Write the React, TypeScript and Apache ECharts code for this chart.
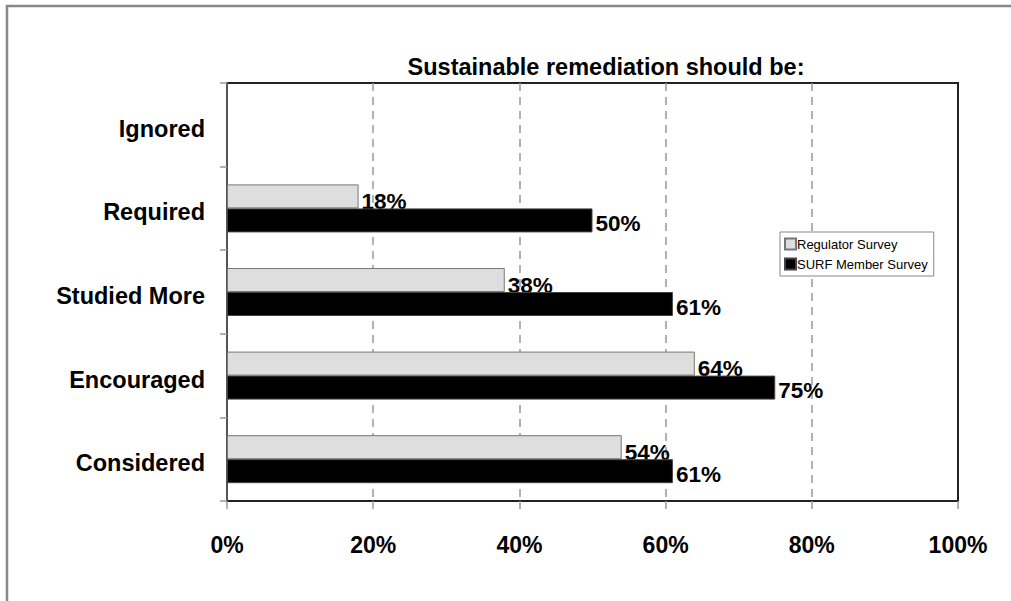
import React, { useEffect, useRef } from "react";
import * as echarts from "echarts";

const categories = ["Considered", "Encouraged", "Studied More", "Required", "Ignored"];
const regulatorValues: (number | null)[] = [54, 64, 38, 18, null];
const surfValues: (number | null)[] = [61, 75, 61, 50, null];
const seriesNames = ["Regulator Survey", "SURF Member Survey"];
const titleText = "Sustainable remediation should be:";

export default function App() {
  const ref = useRef<HTMLDivElement>(null);
  useEffect(() => {
    if (!ref.current) return;
    const chart = echarts.init(ref.current, undefined, { renderer: "svg" });
    const font = "Liberation Sans, Arial, Helvetica, sans-serif";
    const labelStyle = {
      show: true,
      position: "right" as const,
      distance: 3,
      formatter: "{c}%",
      color: "#000",
      fontSize: 22.5,
      fontWeight: "bold" as const,
      fontFamily: font,
    };
    chart.setOption({
      animation: false,
      backgroundColor: "#fff",
      textStyle: { fontFamily: font },
      title: {
        text: titleText,
        left: 601,
        top: 50,
        textAlign: "center",
        textStyle: { fontSize: 23.5, fontWeight: "bold", color: "#000", fontFamily: font },
      },
      graphic: [
        {
          type: "rect",
          silent: true,
          shape: { x: 7, y: 6, width: 1100, height: 700 },
          style: { fill: "none", stroke: "#888", lineWidth: 2.5 },
        },
      ],
      legend: {
        data: seriesNames,
        orient: "vertical",
        left: 780,
        top: 232,
        z: 10,
        padding: [5, 6, 5, 4],
        icon: "rect",
        itemWidth: 11,
        itemHeight: 11,
        itemGap: 6,
        borderColor: "#888",
        borderWidth: 1,
        backgroundColor: "#fff",
        textStyle: { fontSize: 13, color: "#000", fontFamily: font, lineHeight: 14, padding: [0, 0, 0, -4] },
      },
      grid: {
        left: 227,
        right: 53,
        top: 83,
        bottom: 100,
        show: true,
        borderColor: "#222",
        borderWidth: 2,
        backgroundColor: "#fff",
      },
      xAxis: {
        type: "value",
        min: 0,
        max: 100,
        interval: 20,
        axisLine: { show: true, lineStyle: { color: "#222", width: 2 } },
        axisTick: { show: true, length: 8, lineStyle: { color: "#999", width: 1.5 } },
        axisLabel: {
          formatter: "{value}%",
          margin: 32,
          fontSize: 23,
          fontWeight: "bold",
          color: "#000",
          fontFamily: font,
        },
        splitLine: {
          show: true,
          showMinLine: false,
          showMaxLine: false,
          lineStyle: { color: "#999", width: 1.5, type: [8, 6] },
        },
      },
      yAxis: {
        type: "category",
        data: categories,
        axisLine: { show: true, lineStyle: { color: "#555", width: 2 } },
        axisTick: { show: true, length: 7, lineStyle: { color: "#999", width: 1.5 } },
        axisLabel: {
          margin: 22,
          fontSize: 23.5,
          fontWeight: "bold",
          color: "#000",
          fontFamily: font,
          verticalAlign: "top",
          lineHeight: 8,
        },
        splitLine: { show: false },
      },
      series: [
        {
          name: seriesNames[0],
          type: "bar",
          z: 2,
          data: regulatorValues,
          barWidth: 24,
          barGap: "0%",
          itemStyle: { color: "#dedede", borderColor: "#777", borderWidth: 1 },
          label: { ...labelStyle, offset: [0, 5] },
        },
        {
          name: seriesNames[1],
          type: "bar",
          z: 3,
          data: surfValues,
          barWidth: 24,
          barGap: "0%",
          itemStyle: { color: "#000", borderColor: "#444", borderWidth: 1 },
          label: { ...labelStyle, offset: [0, 3] },
        },
      ],
    });
    return () => chart.dispose();
  }, []);
  return (
    <div
      ref={ref}
      style={{ position: "fixed", left: 0, top: 0, width: 1011, height: 601, overflow: "hidden" }}
    />
  );
}
